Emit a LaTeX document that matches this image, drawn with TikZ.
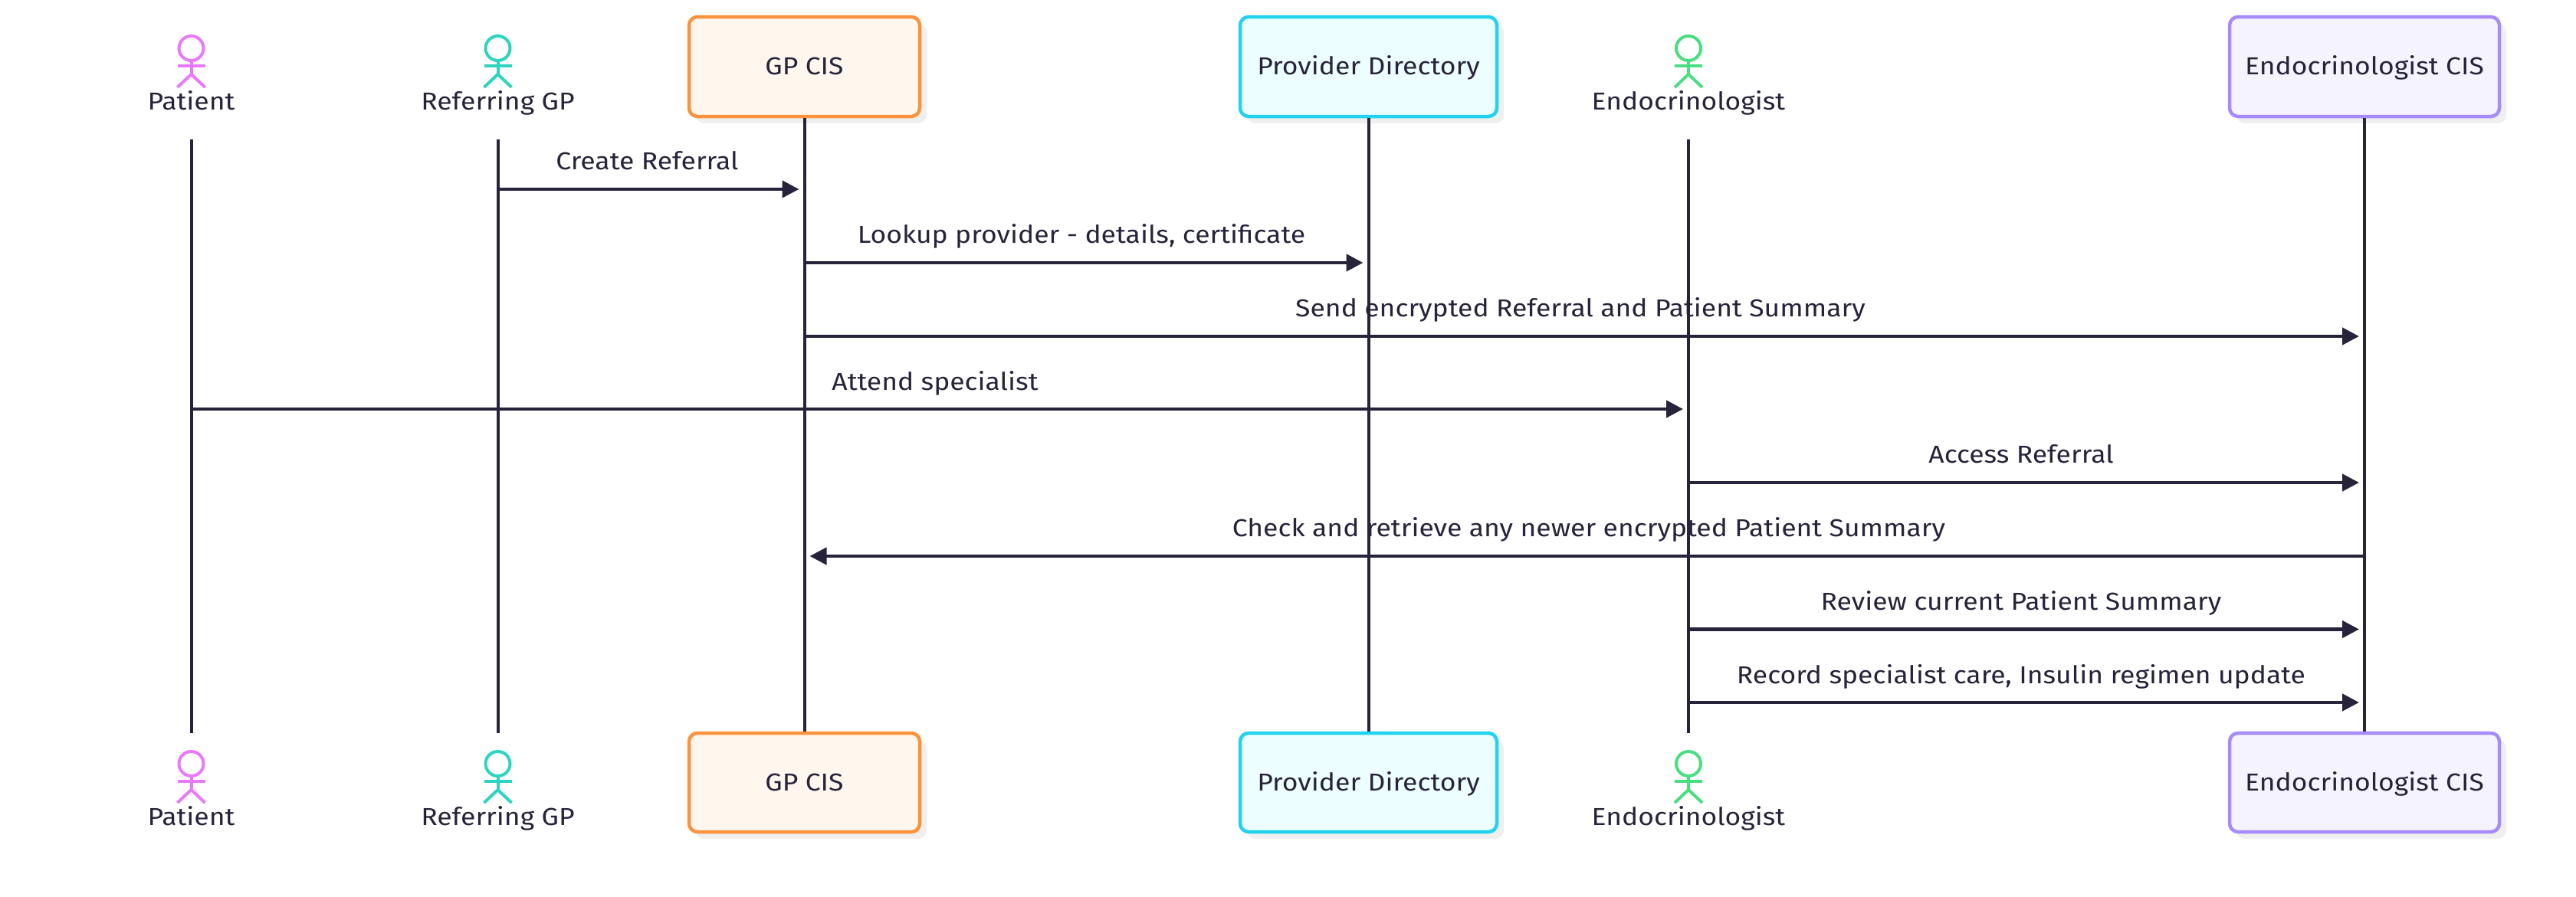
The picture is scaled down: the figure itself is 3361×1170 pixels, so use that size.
\documentclass[tikz,border=0pt]{standalone}
\usepackage{fontspec}
\setmainfont[FakeStretch=1.11]{Fira Sans}
\definecolor{ink}{HTML}{27233A}
\definecolor{shadowc}{HTML}{EFEFEF}
\definecolor{pat}{HTML}{E879F9}
\definecolor{ref}{HTML}{2DD4BF}
\definecolor{endo}{HTML}{4ADE80}
\tikzset{
  lbl/.style={font=\fontsize{32}{38}\selectfont, text=ink, inner sep=0pt, anchor=base},
  lifeline/.style={draw=ink, line width=4pt},
  msg/.style={draw=ink, line width=4.5pt, -{Triangle[length=22pt,width=22pt]}, shorten >=7pt},
  shadowbox/.style={fill=shadowc, rounded corners=11pt},
  actorline/.style={line width=4pt},
}
\usetikzlibrary{arrows.meta}
\newcommand{\actorfig}[3]{%
  \draw[actorline,draw=#3] (#1,#2+16) circle (16);
  \draw[actorline,draw=#3] (#1,#2+33) -- (#1,#2+50);
  \draw[actorline,draw=#3] (#1-18,#2+39) -- (#1+18,#2+39);
  \draw[actorline,draw=#3] (#1-18,#2+67) -- (#1,#2+50) -- (#1+18,#2+67);
}
\newcommand{\boxfig}[8]{% name x0 x1 y0 y1 stroke fill text
  \path[shadowbox] (#2+9,#4+9) rectangle (#3+9,#5+9);
  \node[inner sep=0pt, minimum width=#3pt-#2pt, minimum height=#5pt-#4pt, rounded corners=11pt, line width=4.5pt, draw=#6, fill=#7] (#1) at ({(#2+#3)/2},{(#4+#5)/2}) {};
  \node[lbl] at ({(#2+#3)/2},#4+75.5) {#8};
}
\begin{document}
\begin{tikzpicture}[x=1pt,y=-1pt]
\useasboundingbox (0,0) rectangle (3361,1170);
\coordinate (patT) at (249.5,182); \coordinate (patB) at (249.5,957);
\coordinate (refT) at (649.5,182); \coordinate (refB) at (649.5,957);
\coordinate (endT) at (2203,182); \coordinate (endB) at (2203,957);
\definecolor{gpS}{HTML}{FB923C}\definecolor{gpF}{HTML}{FFF7ED}
\definecolor{prS}{HTML}{22D3EE}\definecolor{prF}{HTML}{ECFEFF}
\definecolor{ecS}{HTML}{A78BFA}\definecolor{ecF}{HTML}{F5F3FF}
\boxfig{gpT}{899}{1200}{22}{152}{gpS}{gpF}{GP CIS}
\boxfig{gpB}{899}{1200}{957}{1086}{gpS}{gpF}{GP CIS}
\boxfig{prT}{1618}{1953}{22}{152}{prS}{prF}{Provider Directory}
\boxfig{prB}{1618}{1953}{957}{1086}{prS}{prF}{Provider Directory}
\boxfig{ecT}{2909}{3261}{22}{152}{ecS}{ecF}{Endocrinologist CIS}
\boxfig{ecB}{2909}{3261}{957}{1086}{ecS}{ecF}{Endocrinologist CIS}
\node[lbl] at (844.5,221.5) {Create Referral};
\node[lbl] at (1411,317.5) {Lookup provider - details, certificate};
\node[lbl] at (2062,413) {Send encrypted Referral and Patient Summary};
\node[lbl] at (1220,509) {Attend specialist};
\node[lbl] at (2637,604.5) {Access Referral};
\node[lbl] at (2073,700.5) {Check and retrieve any newer encrypted Patient Summary};
\node[lbl] at (2637,796.5) {Review current Patient Summary};
\node[lbl] at (2637,892) {Record specialist care, Insulin regimen update};
\draw[lifeline] (patT) -- (patB);
\draw[lifeline] (refT) -- (refB);
\draw[lifeline] (endT) -- (endB);
\draw[lifeline] (gpT.south) -- (gpB.north);
\draw[lifeline] (prT.south) -- (prB.north);
\draw[lifeline] (ecT.south) -- (ecB.north);
\coordinate (m1a) at (649.5,247); \coordinate (m1b) at (1049.5,247);
\coordinate (m2a) at (1049.5,343); \coordinate (m2b) at (1785.5,343);
\coordinate (m3a) at (1049.5,439); \coordinate (m3b) at (3085,439);
\coordinate (m4a) at (249.5,534); \coordinate (m4b) at (2203,534);
\coordinate (m5a) at (2203,630); \coordinate (m5b) at (3085,630);
\coordinate (m6a) at (3085,726); \coordinate (m6b) at (1049.5,726);
\coordinate (m7a) at (2203,821.5); \coordinate (m7b) at (3085,821.5);
\coordinate (m8a) at (2203,917); \coordinate (m8b) at (3085,917);
\foreach \i in {1,...,8} { \draw[msg] (m\i a) -- (m\i b); }
\actorfig{249.5}{47}{pat}
\actorfig{649.5}{47}{ref}
\actorfig{2203}{47}{endo}
\actorfig{249.5}{981}{pat}
\actorfig{649.5}{981}{ref}
\actorfig{2203}{981}{endo}
\node[lbl] (a1) at (249.5,143.5) {Patient};
\node[lbl] (a2) at (649.5,143.5) {Referring GP};
\node[lbl] (a3) at (2203,143.5) {Endocrinologist};
\node[lbl] (a4) at (249.5,1077) {Patient};
\node[lbl] (a5) at (649.5,1077) {Referring GP};
\node[lbl] (a6) at (2203,1077) {Endocrinologist};
\end{tikzpicture}
\end{document}
